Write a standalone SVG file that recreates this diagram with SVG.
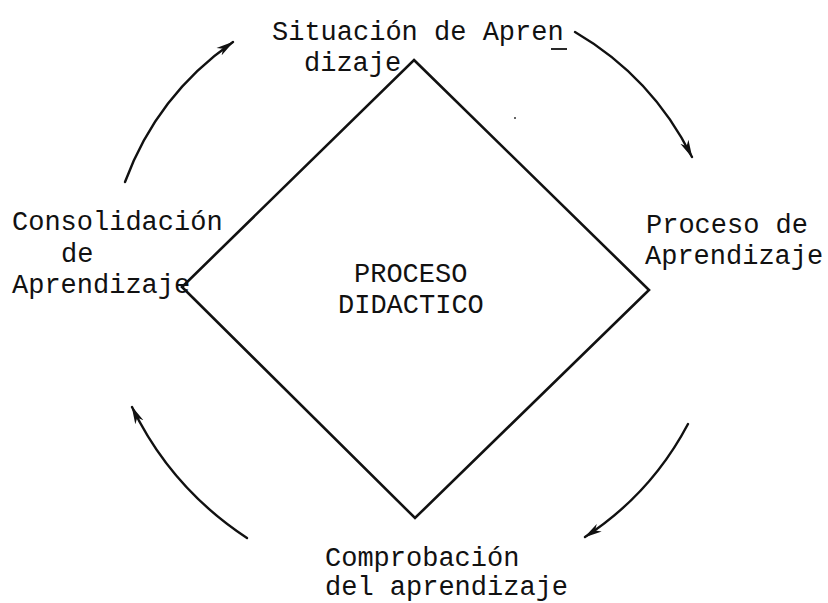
<svg xmlns="http://www.w3.org/2000/svg" width="828" height="603" viewBox="0 0 828 603">
<style>
  .t { font-family: "Liberation Mono", "Courier New", monospace; font-size: 27px; fill: #111; }
  .ln { fill: none; stroke: #111; stroke-width: 2.6; stroke-linejoin: miter; }
  .arc { fill: none; stroke: #111; stroke-width: 2.4; stroke-linecap: round; }
</style>
<defs>
  <marker id="ah" viewBox="0 0 18 10" refX="17" refY="5" markerWidth="18" markerHeight="10" markerUnits="userSpaceOnUse" orient="auto">
    <path d="M0,0.5 L18,5 L0,9.5 L5,5 Z" fill="#111"/>
  </marker>
</defs>
<rect width="828" height="603" fill="#fff"/>

<g id="proceso-didactico">
  <polygon class="ln" points="414,60 649,290 415,518 182,287"/>
  <text class="t" x="354" y="282">PROCESO</text>
  <text class="t" x="338" y="313">DIDACTICO</text>
</g>

<g id="situacion">
  <text class="t" x="272" y="40">Situación de Apren</text>
  <line x1="551" y1="49" x2="567" y2="49" stroke="#111" stroke-width="1.8"/>
  <text class="t" x="304" y="71">dizaje</text>
</g>

<g id="proceso-aprendizaje">
  <text class="t" x="646" y="233">Proceso de</text>
  <text class="t" x="645" y="264">Aprendizaje</text>
</g>

<g id="comprobacion">
  <text class="t" x="325" y="566">Comprobación</text>
  <text class="t" x="325" y="595">del aprendizaje</text>
</g>

<g id="consolidacion">
  <text class="t" x="12" y="230">Consolidación</text>
  <text class="t" x="61" y="262">de</text>
  <text class="t" x="12" y="293">Aprendizaje</text>
</g>

<g id="connectors">
  <path class="arc" d="M575,32 Q652,77 692,157" marker-end="url(#ah)"/>
  <path class="arc" d="M688,424 Q651,494 585,537" marker-end="url(#ah)"/>
  <path class="arc" d="M247,538 Q171,488 132,407" marker-end="url(#ah)"/>
  <path class="arc" d="M125,182 Q157,95 233,42" marker-end="url(#ah)"/>
</g>

<circle cx="515" cy="118" r="1" fill="#333"/>
</svg>
